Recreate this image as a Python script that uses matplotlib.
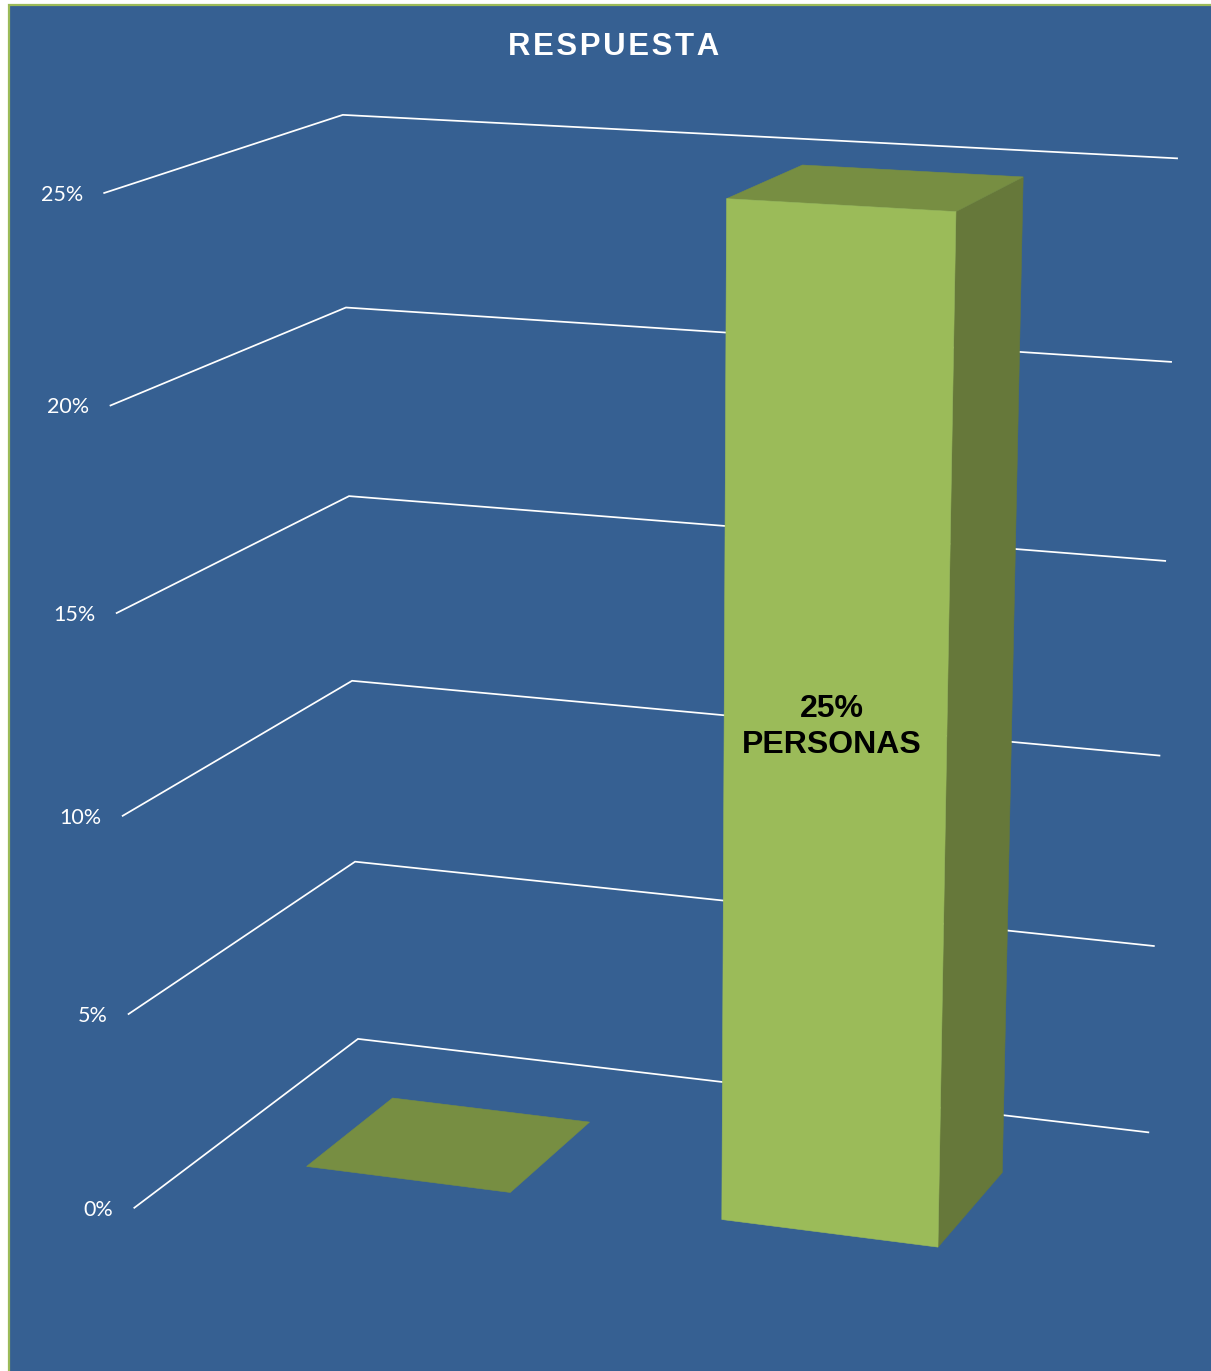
import numpy as np
import matplotlib.pyplot as plt
from matplotlib.patches import Polygon, Rectangle

BG = '#366092'
FRONT = '#9BBB59'
SIDE = '#66783A'
TOP = '#778E42'

categories = ['', 'PERSONAS']
values = [0, 25]
ticks = [0, 5, 10, 15, 20, 25]
tick_labels = ['0%', '5%', '10%', '15%', '20%', '25%']

# where the three corners of each gridline land on the canvas, used to
# solve for the camera of the 3d box
corner_front = [(135, 1209), (129, 1015), (123, 816), (117, 613), (110, 405), (104, 192)]
corner_back = [(357, 1038), (355, 861), (352, 680), (349, 496), (346, 308), (343, 116)]
corner_right = [(1149, 1133), (1154, 946), (1160, 756), (1165, 561), (1171, 362), (1177, 158)]
floor_front_right = (996, 1321)


def fit_camera(world, pix):
    rows = []
    for (x, d, z), (u, v) in zip(world, pix):
        rows.append([x, d, z, 1, 0, 0, 0, 0, -u*x, -u*d, -u*z, -u])
        rows.append([0, 0, 0, 0, x, d, z, 1, -v*x, -v*d, -v*z, -v])
    return np.linalg.svd(np.array(rows, float))[2][-1].reshape(3, 4)


world = [(1, 0, 0)]
pix = [floor_front_right]
for i, t in enumerate(ticks):
    world += [(0, 0, t), (0, 1, t), (1, 1, t)]
    pix += [corner_front[i], corner_back[i], corner_right[i]]
cam = fit_camera(world, pix)


def project(x, d, z):
    # x across the categories 0-1, d depth 0-1, z in percent
    q = cam @ np.array([x, d, z, 1.0])
    return q[0]/q[2], q[1]/q[2]


fig = plt.figure(figsize=(12.11, 13.71), dpi=100, facecolor='white')
ax = fig.add_axes([0, 0, 1, 1])
ax.set_xlim(0, 1211)
ax.set_ylim(1371, 0)
ax.axis('off')

ax.add_patch(Rectangle((8.5, 4.5), 1300, 1500, fc=BG, ec=FRONT, lw=1.6))

# gridlines run along the left wall then the back wall
for t, lab in zip(ticks, tick_labels):
    pts = [project(0, 0, t), project(0, 1, t), project(1, 1, t)]
    ax.plot(*zip(*pts), color='white', lw=1.25, solid_joinstyle='miter', zorder=2)
    ax.text(pts[0][0]-21, pts[0][1]+2, lab, color='white', ha='right', va='center',
            fontsize=15.5, family='Lato', zorder=3)

# each bar takes half its slot across and the middle of the depth
n = len(values)
d0, d1 = 0.3, 0.7
nudge = [0.001, 0.003]
for i, (cat, val) in enumerate(zip(categories, values)):
    x0 = (i + 0.25)/n + nudge[i]
    x1 = (i + 0.75)/n + nudge[i]
    if val > 0:
        right = [project(x1, d0, 0), project(x1, d1, 0), project(x1, d1, val), project(x1, d0, val)]
        ax.add_patch(Polygon(right, fc=SIDE, ec=SIDE, lw=0.4, zorder=4))
        front = [project(x0, d0, 0), project(x1, d0, 0), project(x1, d0, val), project(x0, d0, val)]
        ax.add_patch(Polygon(front, fc=FRONT, ec=FRONT, lw=0.4, zorder=5))
    top = [project(x0, d0, val), project(x1, d0, val), project(x1, d1, val), project(x0, d1, val)]
    ax.add_patch(Polygon(top, fc=TOP, ec=TOP, lw=0.4, zorder=4))
    if val > 0:
        cx, cy = project((x0 + x1)/2, d0, val/2)
        ax.text(cx - 3, cy - 7.5, f'{val}%\n{cat}', color='black', ha='center', va='center',
                fontsize=23, fontweight='bold', family='Liberation Sans', linespacing=1.27, zorder=6)

# hair spaces open up the title letters
ax.text(614, 47, '\u200a'.join('RESPUESTA'), color='white', ha='center', va='center',
        fontsize=22.4, fontweight='bold', family='Liberation Sans')

fig.savefig('out.png', dpi=100, facecolor='white')
